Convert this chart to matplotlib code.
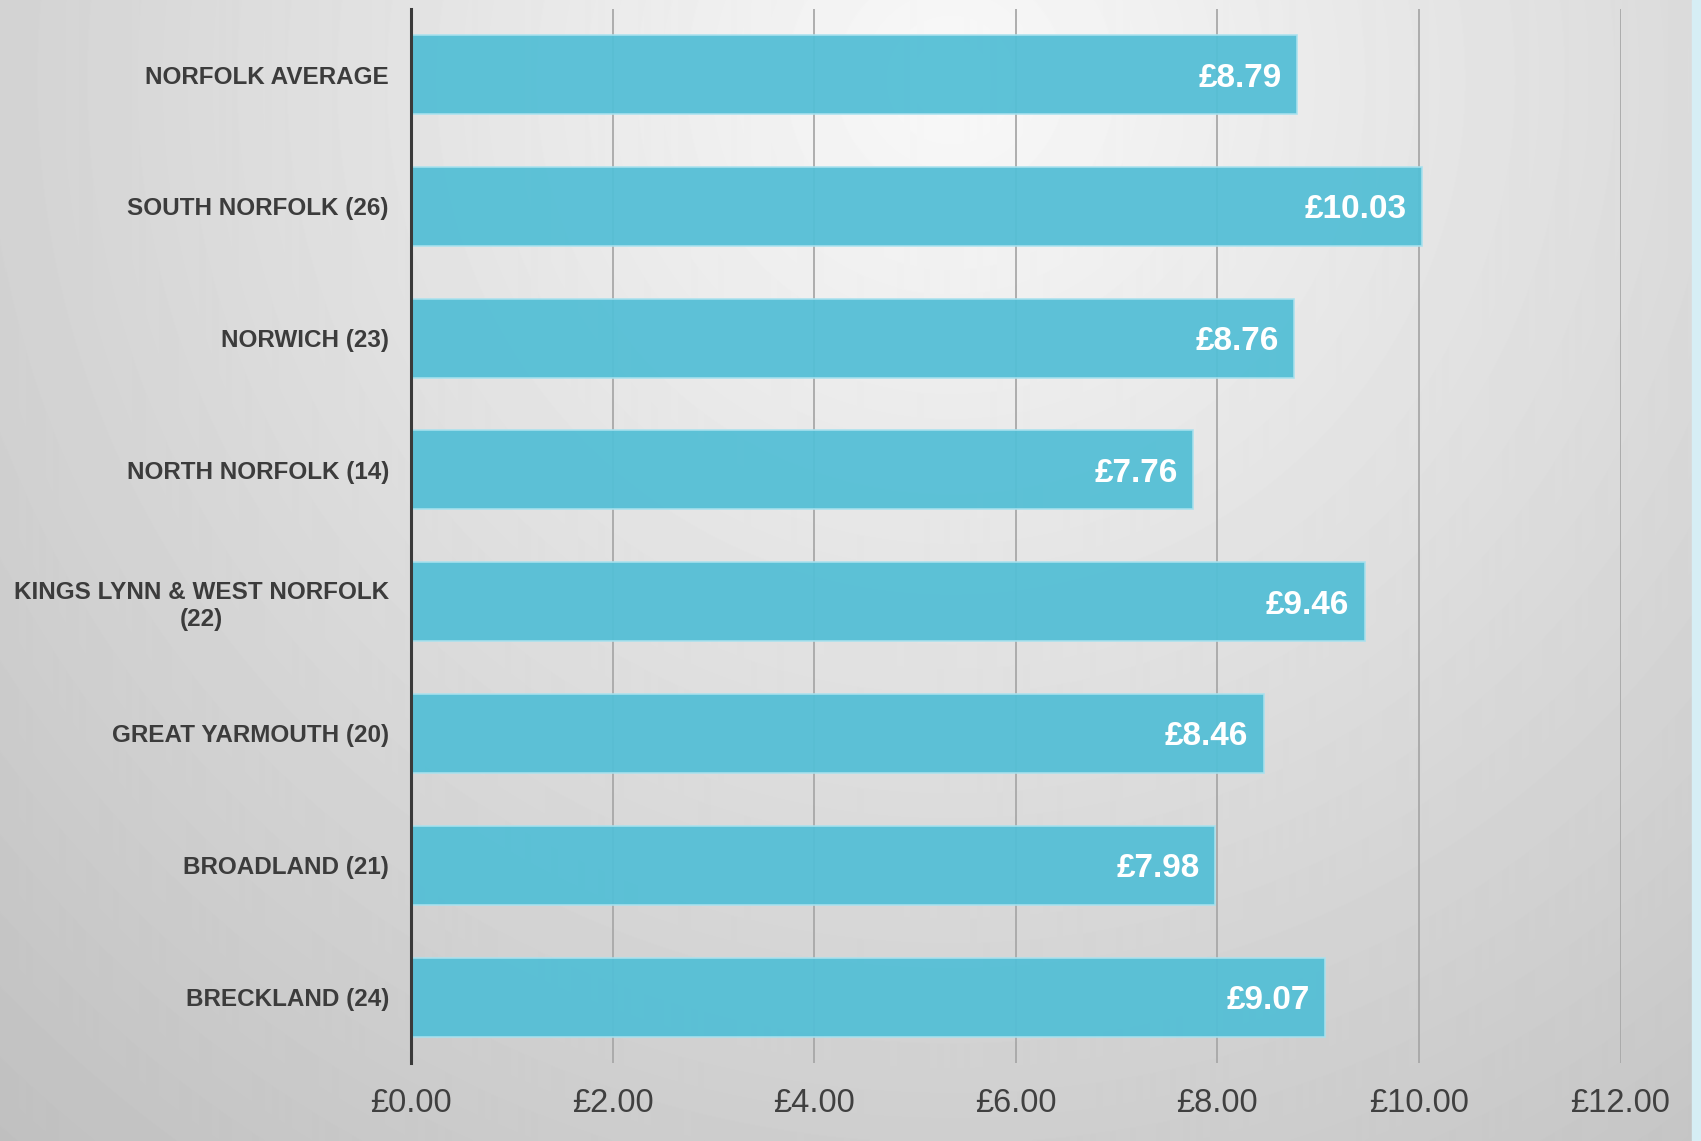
import matplotlib.pyplot as plt
import numpy as np
from matplotlib.patches import Rectangle

plt.rcParams['font.family'] = ['Liberation Sans', 'DejaVu Sans']

AREAS = ["NORFOLK AVERAGE", "SOUTH NORFOLK (26)", "NORWICH (23)",
         "NORTH NORFOLK (14)", "KINGS LYNN & WEST NORFOLK\n(22)",
         "GREAT YARMOUTH (20)", "BROADLAND (21)", "BRECKLAND (24)"]
VALUES = [8.79, 10.03, 8.76, 7.76, 9.46, 8.46, 7.98, 9.07]
XTICKS = [0, 2, 4, 6, 8, 10, 12]


def draw_background(fig):
    # soft radial grey gradient like the slide background
    h, w = 1141, 1701
    yy, xx = np.mgrid[0:h, 0:w]
    d = np.sqrt(((xx - 950) / 1150.0) ** 2 + ((yy - 80) / 1150.0) ** 2)
    shade = np.clip(0.975 - 0.18 * d, 0.75, 0.98)
    bg = fig.add_axes([0, 0, 1, 1], zorder=-10)
    bg.imshow(shade, cmap="gray", vmin=0, vmax=1, aspect="auto")
    bg.axis("off")
    fig.patches.append(Rectangle((1692 / 1701, 0), 9 / 1701, 1,
                                 transform=fig.transFigure,
                                 color="#d6eef5", zorder=-5))


def draw_chart():
    fig = plt.figure(figsize=(17.01, 11.41), dpi=100)
    draw_background(fig)
    ax = fig.add_axes([0.2417, 0.0684, 0.711, 0.924])
    ax.patch.set_alpha(0)

    y = np.arange(len(AREAS))
    bars = ax.barh(y, VALUES, height=0.6, color="#55bfd6", alpha=0.95,
                   edgecolor="#a9e1ee", linewidth=1.2, zorder=3)
    for b, v in zip(bars, VALUES):
        ax.annotate("£%.2f" % v, (v, b.get_y() + b.get_height() / 2),
                    xytext=(-11, 0), textcoords="offset points",
                    ha="right", va="center_baseline", color="white",
                    fontsize=24, fontweight="bold", zorder=4)

    ax.set_xlim(0, 12)
    ax.set_ylim(len(AREAS) - 0.5, -0.5)
    ax.set_xticks(XTICKS)
    ax.set_xticklabels(["£%.2f" % t for t in XTICKS])
    ax.set_yticks(y)
    ax.set_yticklabels(AREAS)
    for lab in ax.get_yticklabels():
        lab.set_multialignment("center")

    ax.grid(axis="x", color="#a8a8a8", lw=1.3, zorder=1)
    for s in ["top", "right", "bottom"]:
        ax.spines[s].set_visible(False)
    ax.spines["left"].set_color("#3a3a3a")
    ax.spines["left"].set_linewidth(2.2)
    ax.spines["left"].set_zorder(5)

    ax.tick_params(axis="x", length=0, pad=18, labelsize=23.5,
                   labelcolor="#404040")
    ax.tick_params(axis="y", length=0, pad=16, labelsize=17.5,
                   labelcolor="#3c3c3c")
    for lab in ax.get_yticklabels():
        lab.set_fontweight("bold")

    fig.savefig("out.png", dpi=100)


if __name__ == '__main__':
    draw_chart()
